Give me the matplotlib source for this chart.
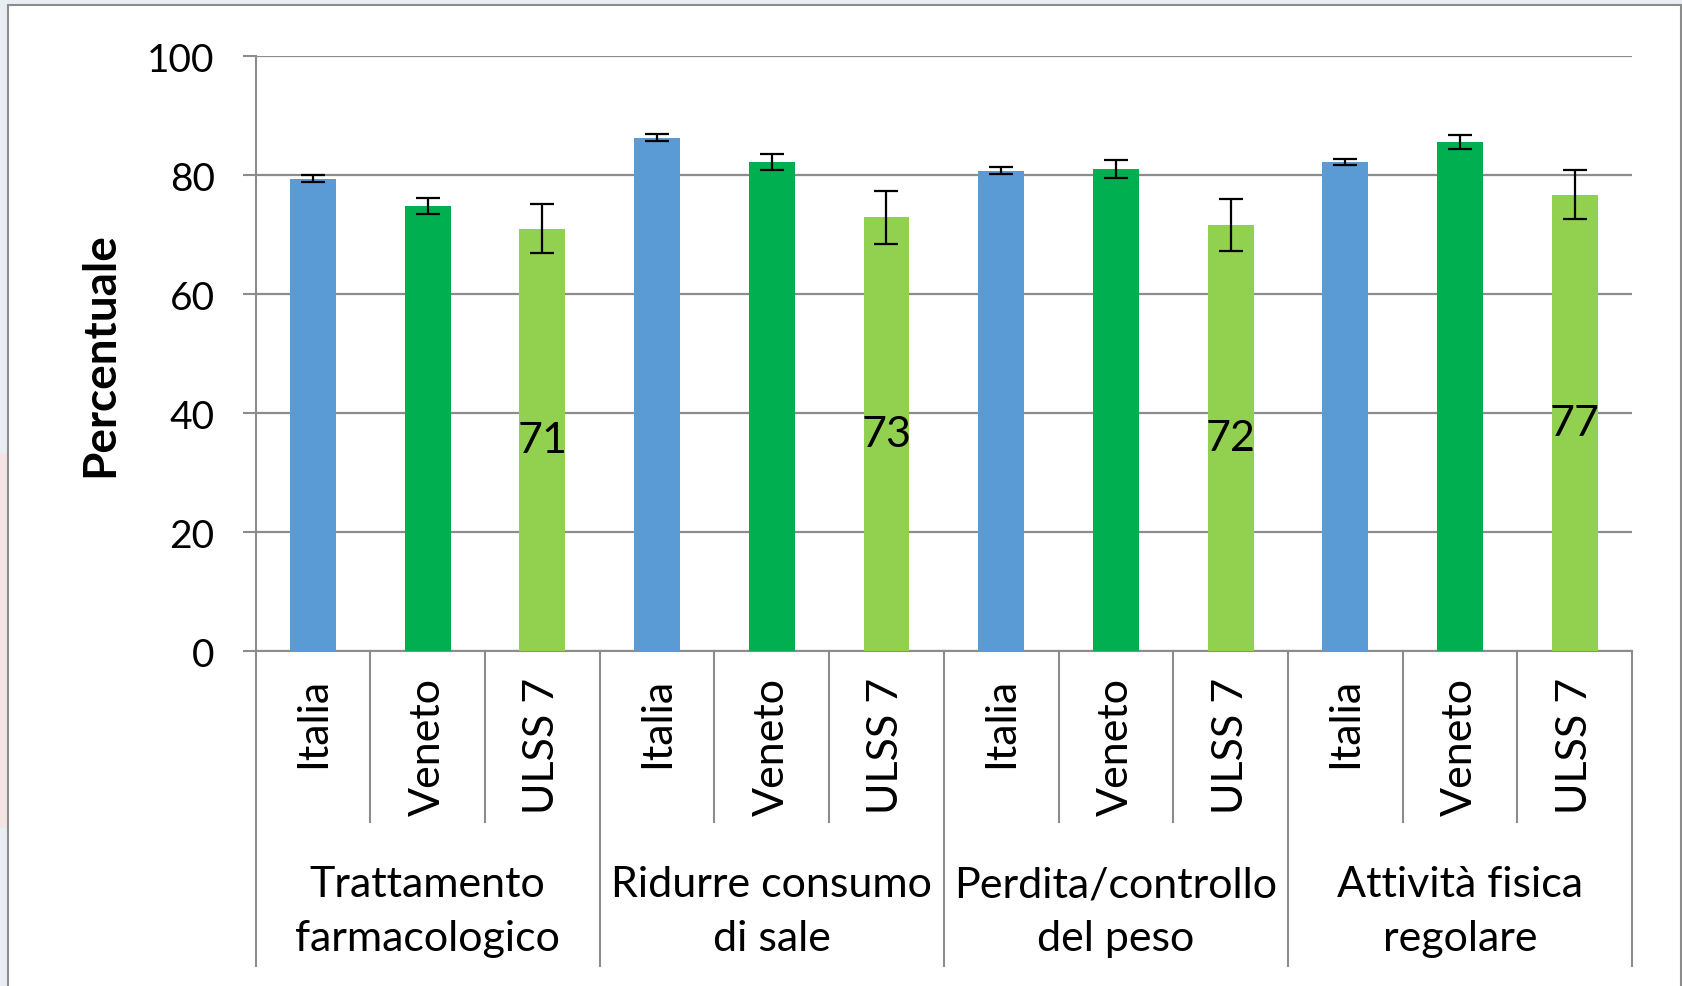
import numpy as np
import matplotlib.pyplot as plt
from matplotlib.patches import Rectangle
import matplotlib.transforms as mtransforms

plt.rcParams['font.family'] = ['Lato', 'DejaVu Sans']

# data
groups = ["Trattamento\nfarmacologico", "Ridurre consumo\ndi sale",
          "Perdita/controllo\ndel peso", "Attività fisica\nregolare"]
areas = ["Italia", "Veneto", "ULSS 7"]
italia = [79.4, 86.3, 80.7, 82.2]
italia_err = [0.6, 0.65, 0.6, 0.56]
veneto = [74.8, 82.2, 81.0, 85.5]
veneto_err = [1.35, 1.37, 1.57, 1.15]
ulss = [71.0, 72.9, 71.6, 76.7]
ulss_err = [4.1, 4.5, 4.4, 4.1]
yticks = [0, 20, 40, 60, 80, 100]

colors = ['#5B9BD5', '#00B050', '#92D050']
grey = '#8c8c8c'
fs = 28     # tick labels
fs_txt = 31  # category / data labels

fig = plt.figure(figsize=(16.83, 9.87), dpi=100)
fig.patch.set_facecolor('#e9eef5')
# faint slide background on the left edge
fig.patches.append(Rectangle((0, 0.16), 0.006, 0.38, transform=fig.transFigure,
                             facecolor='#f4e4e4', edgecolor='none', zorder=-2))
# chart frame
fig.patches.append(Rectangle((8 / 1683, -0.02), 1673 / 1683, 1 - 6 / 987 + 0.02,
                             transform=fig.transFigure, facecolor='white',
                             edgecolor=grey, lw=1.5, zorder=-1))

ax = fig.add_axes([0.1519, 0.3394, 0.8178, 0.6028])
ax.set_facecolor('none')

ngroups = len(groups)
base = np.arange(ngroups) * 3
series = [(italia, italia_err), (veneto, veneto_err), (ulss, ulss_err)]
for j, (vals, errs) in enumerate(series):
    ax.bar(base + j, vals, width=0.4, color=colors[j], zorder=3,
           yerr=errs, error_kw=dict(ecolor='black', elinewidth=1.6,
                                    capsize=8.5, capthick=1.6, zorder=4))

# data labels on ULSS 7 bars
for x, v in zip(base + 2, ulss):
    ax.text(x, v / 2, f"{v:.0f}", ha='center', va='center', fontsize=fs_txt, zorder=5)

ax.set_xlim(-0.5, ngroups * 3 - 0.5)
ax.set_ylim(0, 100)
ax.set_yticks(yticks)
ax.yaxis.grid(True, color=grey, lw=1.6)
ax.set_axisbelow(True)
ax.tick_params(axis='y', length=9.5, width=1.5, color=grey, pad=20, labelsize=fs)
ax.set_xticks([])
for s in ['top', 'right', 'left']:
    ax.spines[s].set_visible(False)
ax.spines['bottom'].set_color(grey)
ax.spines['bottom'].set_linewidth(1.5)

trans = mtransforms.blended_transform_factory(ax.transData, ax.transAxes)

# category labels and separators
n = ngroups * 3
for i in range(n):
    ax.text(i, -0.043, areas[i % 3], rotation=90, ha='center', va='top',
            transform=trans, fontsize=fs_txt)
for i in range(n + 1):
    x = i - 0.5
    low = -0.529 if i % 3 == 0 else -0.2874
    top = 1.0 if i == 0 else 0.0
    ax.plot([x, x], [top, low], color=grey, lw=1.5, transform=trans, clip_on=False)

for g, name in enumerate(groups):
    ax.text(base[g] + 1, -0.437, name, ha='center', va='center', transform=trans,
            fontsize=fs_txt, linespacing=1.5)

ax.text(-0.113, 0.5, "Percentuale", rotation=90, ha='center', va='center',
        transform=ax.transAxes, fontsize=33, fontweight='bold')

fig.savefig('out.png', dpi=100, facecolor=fig.get_facecolor())
